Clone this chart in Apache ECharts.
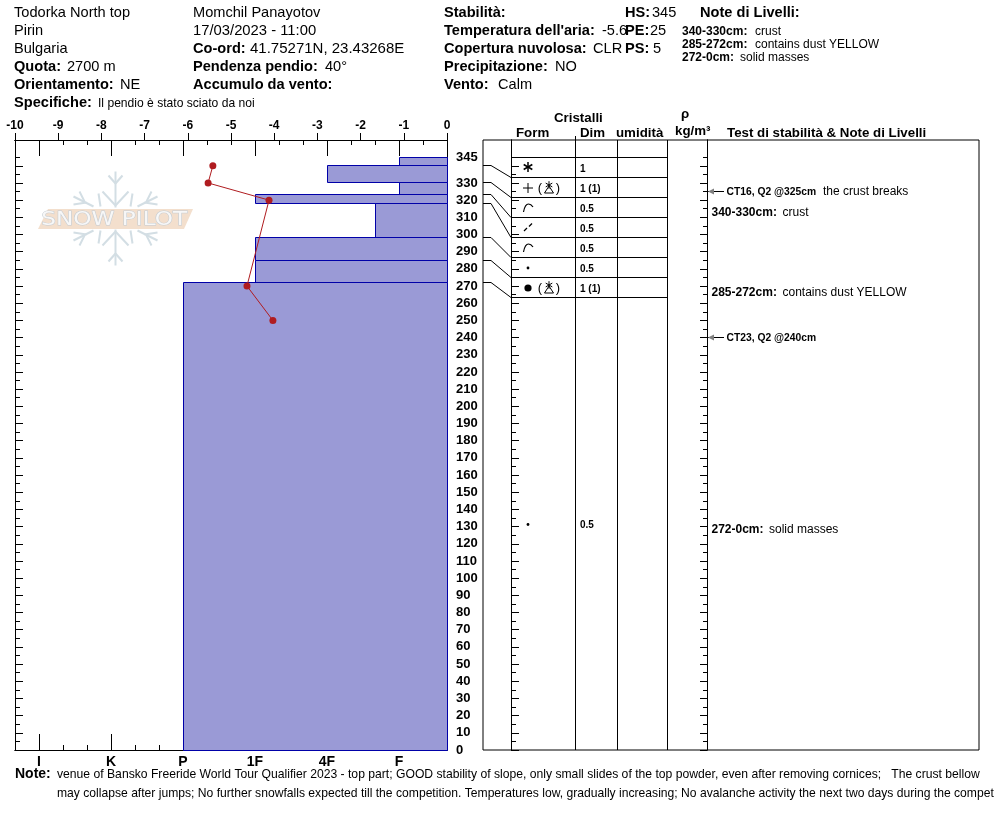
<!DOCTYPE html>
<html><head><meta charset="utf-8">
<style>html,body{margin:0;padding:0;background:#fff;overflow:hidden}#c{width:994px;height:840px}</style>
<script src="https://cdn.jsdelivr.net/npm/echarts@6/dist/echarts.min.js"></script>
</head><body><div id="c"></div>
<script>
// ---- data ----
const temperatureHeights = [340, 330, 320, 270, 250];
const temperatureValues  = [-5.42, -5.53, -4.12, -4.63, -4.03];
const layerTops      = [345, 340, 330, 323.5, 318, 298.5, 285, 272];
const layerBottoms   = [340, 330, 323.5, 318, 298.5, 285, 272, 0];
const layerHardness  = [16, 13, 16, 10, 15, 10, 10, 7];
const hardnessSteps  = [1, 4, 7, 10, 13, 16];
const hardnessLabels = ['I', 'K', 'P', '1F', '4F', 'F'];
const heightLabels   = [0,10,20,30,40,50,60,70,80,90,100,110,120,130,140,150,160,170,180,190,200,210,220,230,240,250,260,270,280,290,300,310,320,330,345];
const grainPrimary   = ['star','plus','curve','dash','curve','dot','ball','dot'];
const grainSecondary = [false,true,false,false,false,false,true,false];
const grainSizes     = ['1','1 (1)','0.5','0.5','0.5','0.5','1 (1)','0.5'];
const stabilityHeights = [325, 240];
const stabilityBold    = ['CT16, Q2 @325cm', 'CT23, Q2 @240cm'];
const stabilityText    = ['the crust breaks', ''];
const noteHeights = [312.5, 266, 128];
const noteBold    = ['340-330cm:', '285-272cm:', '272-0cm:'];
const noteText    = ['crust', 'contains dust YELLOW', 'solid masses'];

// ---- layout constants ----
const HMAX = 355, HARDMAX = 18, PANELW = 496;
const FONT = '"Liberation Sans", Arial, sans-serif';
const columnEdges = [28, 92, 134, 184, 224];
const fives = [], tens = [], hardAll = [];
for (let v = 0; v <= 345; v += 5) { (v % 10 ? fives : tens).push(v); }
for (let v = 0; v <= HARDMAX; v++) if (!hardnessSteps.includes(v)) hardAll.push(v);
const half = v => Math.round(v) + 0.5;
const halfY = v => Math.floor(v) + 0.5;

const chart = echarts.init(document.getElementById('c'), null, {renderer:'canvas', width:994, height:840});

function xAx(pos, ticks, len, extra) {
  return Object.assign({
    type:'value', gridIndex:0, position:pos, min:0, max:HARDMAX,
    axisLine:{show:true, onZero:false, lineStyle:{color:'#000', width:1}},
    axisTick:{show:true, inside:true, length:len, customValues:ticks, lineStyle:{color:'#000', width:1}},
    axisLabel:{show:false}, splitLine:{show:false}
  }, extra || {});
}
function yAx(grid, pos, ticks, len, offset, extra) {
  return Object.assign({
    type:'value', gridIndex:grid, position:pos, min:0, max:HMAX, offset:offset,
    axisLine:{show:true, onZero:false, lineStyle:{color:'#000', width:1}},
    axisTick:{show:true, inside:true, length:len, customValues:ticks, lineStyle:{color:'#000', width:1}},
    axisLabel:{show:false}, splitLine:{show:false}
  }, extra || {});
}

// ---- header text ----
function T(x, y, text, bold, size) {
  return {type:'text', x:x, y:y+1, silent:true, z:20, style:{text:text, fill:'#000', textVerticalAlign:'middle',
    font:(bold?'bold ':'') + (size||14.6) + 'px ' + FONT}};
}
const headerItems = [
  T(14,12,'Todorka North top'), T(14,30,'Pirin'), T(14,48,'Bulgaria'),
  T(14,66,'Quota:',1), T(67,66,'2700 m'),
  T(14,84,'Orientamento:',1), T(120,84,'NE'),
  T(14,102,'Specifiche:',1), T(98,103,'Il pendio è stato sciato da noi',0,12.1),
  T(193,12,'Momchil Panayotov'), T(193,30,'17/03/2023 - 11:00',0,14.8),
  T(193,48,'Co-ord:',1), T(250,48,'41.75271N, 23.43268E',0,15),
  T(193,66,'Pendenza pendio:',1), T(325,66,'40°'),
  T(193,84,'Accumulo da vento:',1),
  T(444,12,'Stabilità:',1),
  T(444,30,"Temperatura dell'aria:",1), T(602,30,'-5.6'),
  T(444,48,'Copertura nuvolosa:',1), T(593,48,'CLR'),
  T(444,66,'Precipitazione:',1), T(555,66,'NO'),
  T(444,84,'Vento:',1), T(498,84,'Calm'),
  T(625,12,'HS:',1), T(652,12,'345'),
  T(625,30,'PE:',1), T(650,30,'25'),
  T(625,48,'PS:',1), T(653,48,'5'),
  T(700,12,'Note di Livelli:',1),
  T(682,31,noteBold[0],1,12), T(755,31,noteText[0],0,12),
  T(682,44,noteBold[1],1,12), T(755,44,noteText[1],0,12),
  T(682,57,noteBold[2],1,12), T(740,57,noteText[2],0,12),
  T(554,117,'Cristalli',1,13.3), T(516,132,'Form',1,13.3), T(580,132,'Dim',1,13.3), T(616,132,'umidità',1,13.3),
  T(681,113,'ρ',1,13.3), T(675,130,'kg/m³',1,13.3), T(727,132,'Test di stabilità & Note di Livelli',1,13.3),
  T(15,773,'Note:',1,14),
  T(57,774,'venue of Bansko Freeride World Tour Qualifier 2023 - top part; GOOD stability of slope, only small slides of the top powder, even after removing cornices;   The crust bellow',0,12.17),
  T(57,793,'may collapse after jumps; No further snowfalls expected till the competition. Temperatures low, gradually increasing; No avalanche activity the next two days during the competition',0,12.13)
];

// ---- watermark ----
function snowflake(cx, cy) {
  const out = [], col = '#d3dee4';
  const seg = (a,b,c,d,w) => out.push({type:'line', silent:true, z:1, shape:{x1:a,y1:b,x2:c,y2:d}, style:{stroke:col, lineWidth:w||2}});
  [-1,1].forEach(s => {
    seg(cx, cy+s*47, cx, cy+s*11);
    seg(cx-7, cy+s*43, cx, cy+s*35); seg(cx+7, cy+s*43, cx, cy+s*35);
    seg(cx-13, cy+s*27, cx, cy+s*13); seg(cx+13, cy+s*27, cx, cy+s*13);
    [-1,1].forEach(h => {
      seg(cx+h*17, cy+s*25, cx+h*15, cy+s*12);
      seg(cx+h*42, cy+s*22, cx+h*22, cy+s*12);
      seg(cx+h*36, cy+s*27, cx+h*31, cy+s*17);
      seg(cx+h*42, cy+s*14, cx+h*29, cy+s*16);
    });
  });
  return out;
}
const watermark = snowflake(115.5, 218.5).concat([
  {type:'polygon', silent:true, z:2, shape:{points:[[38,229],[48,209],[193,209],[184,229]]}, style:{fill:'#f3dfcd'}},
  {type:'text', x:49, y:219.5, scaleX:1.16, originX:49, originY:219.5, silent:true, z:3, style:{text:'SNOW PILOT', textVerticalAlign:'middle', fill:'#f7f7f7', stroke:'#c5ccd2', lineWidth:1, font:'20px "DejaVu Sans", sans-serif'}}
]);

// ---- grain glyphs ----
function line(a,b,c,d,w,col){return {type:'line', shape:{x1:a,y1:b,x2:c,y2:d}, style:{stroke:col||'#000', lineWidth:w||1}};}
function asterisk(x,y,r,w){
  const o=[];
  for(let i=0;i<3;i++){const a=Math.PI/2+i*Math.PI/3;o.push(line(x-r*Math.cos(a),y-r*Math.sin(a),x+r*Math.cos(a),y+r*Math.sin(a),w||1));}
  return o;
}
function glyph(kind,x,y){
  if(kind==='star') return asterisk(x,y-1,5,1.5);
  if(kind==='plus') return [line(x-5,y,x+5,y),line(x,y-5,x,y+5)];
  if(kind==='curve') return [{type:'path',shape:{pathData:`M${x-4.5} ${y+4} Q${x-3} ${y-4} ${x+0.5} ${y-4} Q${x+3} ${y-4} ${x+5} ${y-1}`},style:{fill:'none',stroke:'#000',lineWidth:1.2}}];
  if(kind==='dash') return [line(x-4,y+3,x-1,y,1.2),line(x+1,y-1.5,x+4,y-4.5,1.2)];
  if(kind==='dot') return [{type:'circle',shape:{cx:x,cy:y,r:1.4},style:{fill:'#000'}}];
  if(kind==='ball') return [{type:'circle',shape:{cx:x,cy:y,r:3.6},style:{fill:'#000'}}];
  return [];
}
function facetParen(x,y){
  const font='13px '+FONT;
  return [
    {type:'text',style:{x:x-9,y:y,text:'(',font:font,fill:'#000',textAlign:'center',textVerticalAlign:'middle'}},
    {type:'text',style:{x:x+9,y:y,text:')',font:font,fill:'#000',textAlign:'center',textVerticalAlign:'middle'}},
    {type:'polygon',shape:{points:[[x-4.5,y+5],[x,y-2],[x+4.5,y+5]]},style:{fill:'none',stroke:'#000',lineWidth:1}}
  ].concat(asterisk(x,y-3,3.8,1));
}
function txt(x,y,text,bold,size){
  return {type:'text',style:{x:x,y:y,text:text,fill:'#000',textVerticalAlign:'middle',font:(bold?'bold ':'')+size+'px '+FONT}};
}
function rowGeom(api,i){
  const y0=Math.round(api.coord([0,345])[1]);
  return {top:y0+20*i, bottom:i<7?y0+20*(i+1):Math.round(api.coord([0,0])[1])};
}

const option = {
  animation:false,
  backgroundColor:'#fff',
  textStyle:{fontFamily:FONT},
  grid:[
    {left:15, top:140, width:432, height:610, containLabel:false, show:false},
    {left:483, top:140, width:PANELW, height:610, containLabel:false, show:true, borderColor:'#000', borderWidth:1, backgroundColor:'transparent'}
  ],
  xAxis:[
    {type:'value', gridIndex:0, position:'top', min:-10, max:0, interval:1,
     axisLine:{show:true,onZero:false,lineStyle:{color:'#000',width:1}},
     axisTick:{show:true,length:7,lineStyle:{color:'#000',width:1}},
     axisLabel:{show:true,margin:8,color:'#000',fontWeight:'bold',fontSize:12,fontFamily:FONT,showMinLabel:true,showMaxLabel:true,hideOverlap:false},
     splitLine:{show:false}},
    xAx('bottom', hardnessSteps, 16, {axisLabel:{show:true,margin:5,color:'#000',fontWeight:'bold',fontSize:14,fontFamily:FONT,hideOverlap:false,
       customValues:hardnessSteps, formatter:v=>hardnessLabels[hardnessSteps.indexOf(v)]}}),
    xAx('bottom', hardAll, 5),
    xAx('top', hardnessSteps, 16),
    xAx('top', hardAll, 5),
    {type:'value', gridIndex:1, min:0, max:PANELW, show:false}
  ],
  yAxis:[
    yAx(0,'left',tens,8,0),
    yAx(0,'left',fives,5,0),
    yAx(0,'right',tens,7,0,{axisLabel:{show:true,inside:false,margin:9,color:'#000',fontWeight:'bold',fontSize:13,fontFamily:FONT,hideOverlap:false,customValues:heightLabels,align:'left',padding:[4,0,0,0]}}),
    yAx(0,'right',fives,4,0),
    yAx(1,'left',tens,8,-28),
    yAx(1,'left',fives,5,-28),
    yAx(1,'right',tens,7,-272),
    yAx(1,'right',fives,4,-272),
    {type:'value', gridIndex:1, min:0, max:HMAX, show:false}
  ],
  graphic:headerItems.concat(watermark),
  series:[
    {type:'custom', name:'Layers', xAxisIndex:1, yAxisIndex:0, z:2, silent:true, clip:false,
     data:layerHardness.map((h,i)=>[h,layerBottoms[i],layerTops[i]]),
     renderItem:(p,api)=>{
       const a=api.coord([api.value(0),api.value(2)]), b=api.coord([HARDMAX,api.value(1)]);
       const x=half(a[0]), y=halfY(a[1]), r=half(b[0]), bt=halfY(b[1]);
       return {type:'rect',shape:{x:x,y:y,width:r-x,height:bt-y},style:{fill:'#9a9ad6',stroke:'#0000a8',lineWidth:1}};
     }},
    {type:'line', name:'Temperature', xAxisIndex:0, yAxisIndex:0, z:5, silent:true,
     data:temperatureValues.map((t,i)=>[t,temperatureHeights[i]]),
     lineStyle:{color:'#b01c20',width:1}, itemStyle:{color:'#b01c20'}, symbol:'circle', symbolSize:7, showSymbol:true},
    // table column and top tick
    {type:'custom', name:'Columns', xAxisIndex:5, yAxisIndex:8, z:3, silent:true, clip:false,
     data:columnEdges.map(c=>[c]),
     renderItem:(p,api)=>{
       const t=api.coord([api.value(0),HMAX]), b=api.coord([api.value(0),0]);
       const x=half(t[0]);
       const top=api.value(0)===92?t[1]-4:t[1];
       return {type:'line',shape:{x1:x,y1:top,x2:x,y2:b[1]},style:{stroke:'#000',lineWidth:1}};
     }},
    // table rows
    {type:'custom', name:'Rows', xAxisIndex:5, yAxisIndex:8, z:3, silent:true, clip:false,
     data:grainPrimary.map((g,i)=>[i]),
     renderItem:(p,api)=>{
       const i=api.value(0), g=rowGeom(api,i), cy=(g.top+g.bottom)/2+1;
       const xl=half(api.coord([28,0])[0]), xr=half(api.coord([184,0])[0]);
       const gx=api.coord([45,0])[0], dimx=api.coord([97,0])[0];
       let ch=[];
       if(i<7) ch.push(line(xl,g.top+.5,xr,g.top+.5));
       ch=ch.concat(glyph(grainPrimary[i],gx,cy));
       if(grainSecondary[i]) ch=ch.concat(facetParen(gx+21,cy));
       ch.push(txt(dimx,cy+1,grainSizes[i],1,10));
       if(i===6) ch.push(line(xl,g.bottom+.5,xr,g.bottom+.5));
       return {type:'group',children:ch};
     }},
    // connectors from layer boundaries to table rows
    {type:'custom', name:'Connectors', xAxisIndex:5, yAxisIndex:8, z:3, silent:true, clip:false,
     data:layerTops.slice(1).map((h,i)=>[h,i]),
     renderItem:(p,api)=>{
       const y=halfY(api.coord([0,api.value(0)])[1]), x0=api.coord([0,0])[0], x1=api.coord([8,0])[0], x2=api.coord([28,0])[0];
       const yb=rowGeom(api,api.value(1)).bottom+.5;
       return {type:'polyline',shape:{points:[[x0,y],[x1,y],[x2,yb]]},style:{fill:'none',stroke:'#000',lineWidth:1}};
     }},
    // stability tests
    {type:'custom', name:'Stability', xAxisIndex:5, yAxisIndex:8, z:4, silent:true, clip:false,
     data:stabilityHeights.map((h,i)=>[h,i]),
     renderItem:(p,api)=>{
       const i=api.value(1), y=Math.floor(api.coord([0,api.value(0)])[1])+.5, x=api.coord([224,0])[0];
       return {type:'group',children:[
         line(x+1,y,x+17,y),
         {type:'polygon',shape:{points:[[x+1,y],[x+7,y-3],[x+7,y+3]]},style:{fill:'#808080'}},
         txt(x+19.5,y+.5,stabilityBold[i],1,10.3),
         txt(x+116,y+.5,stabilityText[i],0,12)
       ]};
     }},
    // layer notes
    {type:'custom', name:'Notes', xAxisIndex:5, yAxisIndex:8, z:4, silent:true, clip:false,
     data:noteHeights.map((h,i)=>[h,i]),
     renderItem:(p,api)=>{
       const i=api.value(1), y=api.coord([0,api.value(0)])[1], x=api.coord([228.5,0])[0];
       return {type:'group',children:[txt(x,y,noteBold[i],1,12),txt(x+(i===2?57.5:71),y,noteText[i],0,12)]};
     }}
  ]
};
chart.setOption(option);
</script></body></html>
